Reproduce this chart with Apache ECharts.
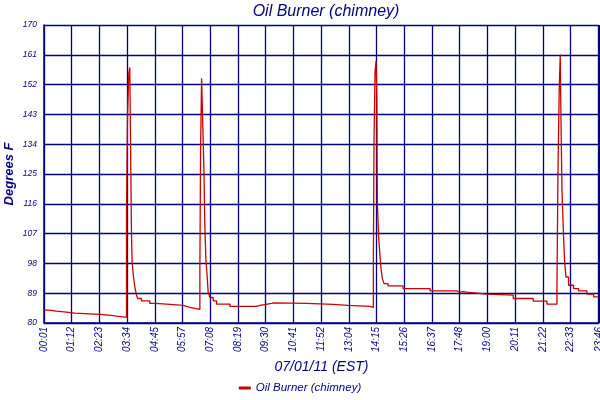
<!DOCTYPE html>
<html>
<head>
<meta charset="utf-8">
<script src="https://cdn.jsdelivr.net/npm/echarts@6/dist/echarts.min.js"></script>
<style>html,body{margin:0;padding:0;background:#fff}#c{width:600px;height:400px}</style>
</head>
<body>
<div id="c"></div>
<script>
// Time of each reading, minutes since midnight (07/01/11, EST)
const times = [1, 15.7, 32.9, 58.6, 80, 144.3, 174.4, 187.2,
  213, 215.5, 218.9, 221.4, 223.2, 225.8, 227.3, 231, 234.3, 238.7, 242, 251.5, 272.9, 285.7, 315.8, 358.5, 375.8,
  401.5, 403.3, 405.9, 410, 411.8, 414.3, 416.9, 420.3, 422.8, 427.2, 435.7, 444.4, 478.6, 545.5, 555.8, 585.9, 591.8, 675.9, 743.6, 782.1, 838.7,
  847.2, 849, 851.6, 854.2, 856, 857.5, 861.1, 864.5, 867, 870.4, 874.8, 885, 923.6, 993.1, 1061.7, 1070.2, 1078, 1087.5, 1138.9, 1206.6, 1258, 1293.3,
  1319, 1321.5, 1324.9, 1327.4, 1329.2, 1331.8, 1336, 1338.5, 1342.1, 1348.8, 1361.6, 1374.5, 1396.1, 1413.1, 1425.5];
// Oil Burner (chimney) temperature, degrees F
const chimneyTemps = [83.9, 83.6, 83.3, 83.0, 82.6, 82.3, 82.1, 81.7,
  113.4, 142.2, 155.4, 157.2, 135.9, 107.1, 98.7, 93.9, 90.9, 88.4, 87.4, 86.7, 85.9, 85.7, 85.3, 84.7, 84.1,
  96.4, 131.9, 153.9, 154.4, 126.9, 109.4, 99.4, 93.9, 89.4, 87.7, 86.7, 85.7, 85.0, 85.3, 85.9, 86.1, 85.9, 85.6, 85.3, 85.0, 84.7,
  97.9, 136.2, 155.9, 159.2, 149.4, 115.9, 105.4, 99.9, 96.4, 93.4, 91.9, 91.2, 90.4, 89.7, 89.3, 89.5, 89.3, 88.7, 88.4, 87.4, 86.6, 85.7,
  90.9, 125.4, 150.9, 161.1, 142.9, 120.4, 105.9, 98.9, 93.9, 91.4, 90.4, 89.7, 88.7, 87.9, 87.7];
// X tick labels
const xTickLabels = ['00:01','01:12','02:23','03:34','04:45','05:57','07:08','08:19','09:30','10:41',
  '11:52','13:04','14:15','15:26','16:37','17:48','19:00','20:11','21:22','22:33','23:45'];
const xEndLabel = '23:46';
const yTicks = [80, 89, 98, 107, 116, 125, 134, 143, 152, 161, 170];

const xMin = 1, xStep = 71.2, xMax = 1427;
const navy = '#000080';
const seriesData = times.map((t, i) => [t, chimneyTemps[i]]);
const chart = echarts.init(document.getElementById('c'), null, {renderer: 'canvas'});
chart.setOption({
  backgroundColor: '#ffffff',
  animation: false,
  title: {
    text: 'Oil Burner (chimney)', left: 321, top: -1, textAlign: 'center',
    textStyle: {color: navy, fontFamily: 'Liberation Sans', fontStyle: 'italic', fontWeight: 'normal', fontSize: 16}
  },
  legend: {
    bottom: 1, left: 'center', itemWidth: 12, itemHeight: 3, itemGap: 4,
    icon: 'rect',
    textStyle: {color: navy, fontFamily: 'Liberation Sans', fontStyle: 'italic', fontSize: 11.5}
  },
  grid: {left: 44, right: 1, top: 25, bottom: 77, containLabel: false, outerBoundsMode: 'none'},
  xAxis: {
    type: 'value', min: xMin, max: xMax, interval: xStep,
    name: '07/01/11 (EST)', nameLocation: 'middle', nameGap: 37,
    nameTextStyle: {color: navy, fontFamily: 'Liberation Sans', fontStyle: 'italic', fontSize: 14},
    axisLine: {show: true, lineStyle: {color: navy, width: 1.5}},
    axisTick: {show: false},
    splitLine: {show: true, lineStyle: {color: navy, width: 1.3}},
    axisLabel: {
      rotate: 90, margin: 4, color: navy, fontFamily: 'Liberation Sans', fontStyle: 'italic', fontSize: 10,
      showMinLabel: true, showMaxLabel: true,
      formatter: v => (v >= xMax - 0.01) ? xEndLabel : xTickLabels[Math.round((v - xMin) / xStep)]
    }
  },
  yAxis: {
    type: 'value', min: yTicks[0], max: yTicks[yTicks.length - 1], interval: yTicks[1] - yTicks[0],
    name: 'Degrees F', nameLocation: 'middle', nameGap: 28, nameMoveOverlap: false,
    nameTextStyle: {color: navy, fontFamily: 'Liberation Sans', fontStyle: 'italic', fontWeight: 'bold', fontSize: 13},
    axisLine: {show: true, lineStyle: {color: navy, width: 1.5}},
    axisTick: {show: false},
    splitLine: {show: true, lineStyle: {color: navy, width: 1.3}},
    axisLabel: {margin: 7, color: navy, fontFamily: 'Liberation Sans', fontStyle: 'italic', fontSize: 8.5}
  },
  series: [{
    name: 'Oil Burner (chimney)', type: 'line', step: 'end', data: seriesData,
    showSymbol: false, symbol: 'none',
    lineStyle: {color: '#cc0000', width: 1.3}, itemStyle: {color: '#cc0000'}
  }]
});
</script>
</body>
</html>
